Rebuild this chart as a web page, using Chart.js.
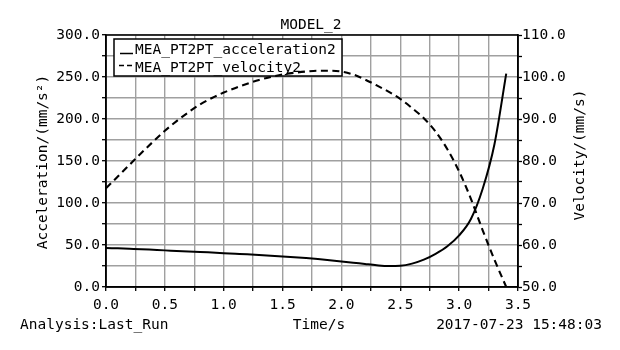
<!DOCTYPE html>
<html>
<head>
<meta charset="utf-8">
<script src="https://cdn.jsdelivr.net/npm/chart.js@4.4.1/dist/chart.umd.min.js"></script>
<style>
  html, body { margin: 0; padding: 0; background: #ffffff; }
  #wrap { width: 620px; height: 350px; position: relative; }
</style>
</head>
<body>
<div id="wrap"><canvas id="c" width="620" height="350"></canvas></div>
<script>
// ---- data ----
const times = [0.0,0.1,0.2,0.3,0.4,0.5,0.6,0.7,0.8,0.9,1.0,1.1,1.2,1.3,1.4,1.5,1.6,1.7,1.8,1.9,2.0,2.1,2.2,2.3,2.4,2.5,2.6,2.7,2.8,2.9,3.0,3.1,3.2,3.3,3.4];
const acceleration2 = [46.5,46.0,45.5,45.0,44.3,43.6,43.0,42.3,41.7,41.0,40.3,39.6,38.9,38.1,37.3,36.4,35.5,34.4,33.2,31.9,30.5,29.0,27.4,25.9,25.0,25.3,27.8,32.5,39.5,48.5,61.5,81.0,117.0,170.0,254.0];
const velocity2 = [73.5,76.3,79.1,81.9,84.6,87.2,89.5,91.6,93.5,95.0,96.3,97.4,98.4,99.3,100.0,100.6,101.0,101.3,101.5,101.5,101.3,100.6,99.4,98.0,96.5,94.8,92.6,90.2,87.0,82.8,77.5,71.0,63.5,56.5,50.0];
const seriesNames = ["MEA_PT2PT_acceleration2", "MEA_PT2PT_velocity2"];
const titleText = "MODEL_2";
const xTitle = "Time/s";
const yLeftTitle = "Acceleration/(mm/s\u00B2)";
const yRightTitle = "Velocity/(mm/s)";
const footLeft = "Analysis:Last_Run";
const footRight = "2017-07-23 15:48:03";

const FONT = "DejaVu Sans Mono";
const FS = 14.5;

const extras = {
  id: 'extras',
  beforeDatasetsDraw(chart) {
    const ctx = chart.ctx;
    const a = chart.chartArea;
    // legend box inside plot
    const bx = a.left + 8, by = a.top + 4, bw = 228, bh = 37;
    ctx.save();
    ctx.fillStyle = '#ffffff';
    ctx.fillRect(bx, by, bw, bh);
    ctx.strokeStyle = '#000';
    ctx.lineWidth = 1.5;
    ctx.strokeRect(bx, by, bw, bh);
    ctx.font = FS + 'px "' + FONT + '"';
    ctx.fillStyle = '#000';
    ctx.textBaseline = 'alphabetic';
    ctx.textAlign = 'left';
    // entry 1 : solid
    ctx.beginPath();
    ctx.lineWidth = 1.5;
    ctx.moveTo(bx + 6, by + 14.5);
    ctx.lineTo(bx + 19, by + 14.5);
    ctx.stroke();
    ctx.fillText(seriesNames[0], bx + 21, by + 15);
    // entry 2 : dashed
    ctx.setLineDash([5, 3]);
    ctx.beginPath();
    ctx.moveTo(bx + 5, by + 26.5);
    ctx.lineTo(bx + 19, by + 26.5);
    ctx.stroke();
    ctx.setLineDash([]);
    ctx.fillText(seriesNames[1], bx + 21, by + 32.5);
    ctx.restore();
  },
  afterDraw(chart) {
    const ctx = chart.ctx;
    const a = chart.chartArea;
    ctx.save();
    ctx.strokeStyle = '#000';
    ctx.lineWidth = 1.5;
    ctx.strokeRect(a.left, a.top, a.right - a.left, a.bottom - a.top);
    ctx.fillStyle = '#000';
    ctx.font = FS + 'px "' + FONT + '"';
    ctx.textBaseline = 'alphabetic';
    ctx.textAlign = 'center';
    ctx.fillText(titleText, 311, 28.5);
    ctx.fillText(xTitle, 319, 328.5);
    ctx.textAlign = 'left';
    ctx.fillText(footLeft, 20, 328.5);
    ctx.textAlign = 'right';
    ctx.fillText(footRight, 602, 328.5);
    // rotated axis titles
    ctx.textAlign = 'center';
    ctx.textBaseline = 'middle';
    ctx.save();
    ctx.translate(43, 162);
    ctx.rotate(-Math.PI / 2);
    ctx.fillText(yLeftTitle, 0, 0);
    ctx.restore();
    ctx.save();
    ctx.translate(580, 155);
    ctx.rotate(-Math.PI / 2);
    ctx.fillText(yRightTitle, 0, 0);
    ctx.restore();
    ctx.restore();
  }
};

const gridCol = '#a0a0a0';
new Chart(document.getElementById('c'), {
  type: 'line',
  data: {
    datasets: [
      {
        label: seriesNames[0],
        data: times.map((t, i) => ({ x: t, y: acceleration2[i] })),
        yAxisID: 'yL',
        borderColor: '#000',
        borderWidth: 2,
        pointRadius: 0,
        fill: false,
        cubicInterpolationMode: 'monotone'
      },
      {
        label: seriesNames[1],
        data: times.map((t, i) => ({ x: t, y: velocity2[i] })),
        yAxisID: 'yR',
        borderColor: '#000',
        borderWidth: 2.1,
        borderDash: [7, 4.5],
        pointRadius: 0,
        fill: false,
        cubicInterpolationMode: 'monotone'
      }
    ]
  },
  options: {
    responsive: false,
    animation: false,
    devicePixelRatio: 1,
    layout: { padding: { top: 35, left: 0, right: 0, bottom: 0 } },
    plugins: { legend: { display: false }, tooltip: { enabled: false }, title: { display: false } },
    scales: {
      x: {
        type: 'linear', min: 0, max: 3.5,
        afterFit(s) { s.height = 63; },
        border: { color: '#000', width: 1.5 },
        grid: { color: gridCol, lineWidth: 1.4, tickLength: 4, tickColor: '#000', tickWidth: 1.3 },
        ticks: {
          stepSize: 0.25, autoSkip: false, maxRotation: 0, padding: 6, color: '#000',
          font: { family: FONT, size: FS },
          callback: v => (Math.abs(v * 2 - Math.round(v * 2)) < 1e-6) ? v.toFixed(1) : ''
        }
      },
      yL: {
        type: 'linear', position: 'left', min: 0, max: 300,
        afterFit(s) { s.width = 106; },
        border: { color: '#000', width: 1.5 },
        grid: { color: gridCol, lineWidth: 1.4, tickLength: 4, tickColor: '#000', tickWidth: 1.3 },
        ticks: {
          stepSize: 25, autoSkip: false, padding: 2, color: '#000',
          font: { family: FONT, size: FS },
          callback: v => (v % 50 === 0) ? v.toFixed(1) : ''
        }
      },
      yR: {
        type: 'linear', position: 'right', min: 50, max: 110,
        afterFit(s) { s.width = 102; },
        border: { color: '#000', width: 1.5 },
        grid: { drawOnChartArea: false, tickLength: 4, tickColor: '#000', tickWidth: 1.3 },
        ticks: {
          stepSize: 5, autoSkip: false, padding: 0, color: '#000',
          font: { family: FONT, size: FS },
          callback: v => (v % 10 === 0) ? v.toFixed(1) : ''
        }
      }
    }
  },
  plugins: [extras]
});
</script>
</body>
</html>
